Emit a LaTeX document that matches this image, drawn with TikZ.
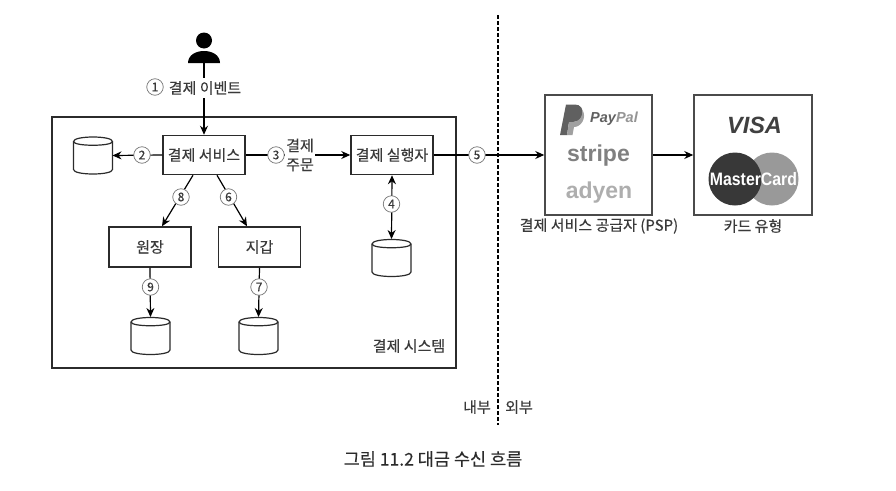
\documentclass[tikz,border=0pt]{standalone}
\usepackage{fontspec}
\setmainfont[FakeBold=0.25]{Noto Sans CJK KR}
\newfontfamily\logofont{Liberation Sans}
\usetikzlibrary{arrows.meta}
\definecolor{ink}{HTML}{2B2B2B}
\definecolor{txt}{HTML}{3A3A3A}
\tikzset{
  x=1pt,y=-1pt,
  boxn/.style={draw=ink,line width=1.5pt,fill=white,minimum width=82pt,minimum height=39pt,inner sep=0pt,text=txt,font=\fontsize{15}{17}\selectfont},
  outerbox/.style={draw=ink,line width=1.5pt,fill=white,minimum width=404pt,minimum height=251pt,inner sep=0pt},
  logobox/.style={draw=ink!85,line width=1.5pt,fill=white,minimum height=120pt,inner sep=0pt},
  dbn/.style={minimum width=39pt,minimum height=38pt,inner sep=0pt,outer sep=0pt},
  dbline/.style={draw=ink,line width=1.2pt,fill=white},
  conn/.style={draw=black,line width=1.2pt,-{Stealth[length=9pt,width=8pt]}},
  conn2/.style={draw=black,line width=1.2pt,{Stealth[length=9pt,width=8pt]}-{Stealth[length=9pt,width=8pt]}},
  numc/.style={circle,draw=ink!65,line width=0.7pt,fill=white,minimum size=16.5pt,inner sep=0pt,text=txt,font=\fontsize{12}{12}\selectfont},
  lbl/.style={text=txt,inner sep=0pt,font=\fontsize{15}{17}\selectfont},
  lblw/.style={lbl,fill=white,inner sep=1pt},
}
\newcommand{\dbdraw}[3]{%
  \node[dbn] (#1) at (#2,#3) {};
  \draw[dbline,shift={(#1.center)}] (-19.5,-14) .. controls (-19.5,-20) and (19.5,-20) .. (19.5,-14) -- (19.5,14) .. controls (19.5,20) and (-19.5,20) .. (-19.5,14) -- cycle;
  \draw[dbline,fill=none,shift={(#1.center)}] (-19.5,-14) .. controls (-19.5,-9) and (19.5,-9) .. (19.5,-14);
}
\begin{document}
\begin{tikzpicture}
\useasboundingbox (0,0) rectangle (896,490);
\fill[white] (0,0) rectangle (896,490);
% boundary
\coordinate (dtop) at (498,15);
\coordinate (dbot) at (498,425);
\draw[black,line width=1.2pt,dash pattern=on 3.5pt off 2.5pt] (dtop) -- (dbot);
% system
\node[outerbox] (sys) at (254,242.5) {};
\node[lbl] (syslbl) at (409,346) {결제 시스템};
% nodes
\node[boxn] (svc) at (204,155) {결제 서비스};
\node[boxn] (exec) at (392,155) {결제 실행자};
\node[boxn,minimum height=40pt] (ledger) at (150,247) {원장};
\node[boxn,minimum height=40pt] (wallet) at (259.5,247) {지갑};
\dbdraw{db2}{93}{155.5}
\dbdraw{db4}{391.5}{258}
\dbdraw{db9}{150.5}{336}
\dbdraw{db7}{258.5}{336}
\node[logobox,minimum width=107pt] (psp) at (598.5,155) {};
\node[logobox,minimum width=118pt] (card) at (753,155) {};
% person
\fill[black] (204,40.5) circle (8);
\fill[black] (188,63) .. controls (188,55) and (196,51) .. (204,51) .. controls (212,51) and (220,55) .. (220,63) -- cycle;
\coordinate (person) at (204,62);
% connectors
\draw[conn] (person) -- (svc.north);
\draw[conn] (svc.west) -- (db2.east);
\draw[conn] (svc.east) -- (exec.west);
\draw[conn2] (exec.south) -- (db4.north);
\draw[conn] (exec.east) -- (psp.west);
\draw[conn] (psp.east) -- (card.west);
\draw[conn] ([xshift=-11pt]svc.south) -- ([xshift=12pt]ledger.north);
\draw[conn] ([xshift=13pt]svc.south) -- ([xshift=-12.5pt]wallet.north);
\draw[conn] (ledger.south) -- (db9.north);
\draw[conn] (wallet.south) -- (db7.north);
% labels on connectors
\node[lblw,minimum height=20pt] (l1) at (205,88) {결제 이벤트};
\node[numc] (n1) at (155,87) {1};
\node[numc] (n2) at (142,155) {2};
\node[lblw,align=center,font=\fontsize{15}{19}\selectfont] (l3) at (300,155) {결제\\주문};
\node[numc] (n3) at (276,155) {3};
\node[numc] (n4) at (391.5,204) {4};
\node[numc] (n5) at (477,155) {5};
\node[numc] (n6) at (228.5,197) {6};
\node[numc] (n7) at (259,287) {7};
\node[numc] (n8) at (181,197) {8};
\node[numc] (n9) at (150.5,287) {9};
% PSP logos
\fill[ink!75] (560,135) -- (566,104.5) -- (575,104.5) .. controls (586,104.5) and (585,122) .. (573,122) -- (569,122) -- (567,135) -- cycle;
\fill[ink!45] (567,135) -- (569,122) -- (573,122) .. controls (579,122) and (583,117) .. (582.5,110) .. controls (587,118) and (581,127) .. (574,127) -- (572.5,135) -- cycle;
\node[inner sep=0pt,font=\logofont\bfseries\itshape\fontsize{14.5}{14.5}\selectfont] (ppl) at (614,119) {\textcolor{ink!75}{Pay}\textcolor{ink!50}{Pal}};
\node[inner sep=0pt,text=ink!60,font=\logofont\bfseries\fontsize{23}{23}\selectfont] (stp) at (598.5,156) {stripe};
\node[inner sep=0pt,text=ink!38,font=\logofont\bfseries\fontsize{23}{23}\selectfont] (ady) at (599,193) {adyen};
% card logos
\node[inner sep=0pt,text=ink!90,font=\logofont\bfseries\itshape\fontsize{23.5}{23.5}\selectfont] (visa) at (754.5,125) {VISA};
\fill[black!40] (772,179) circle (26.5);
\fill[black!78] (735,179) circle (26.5);
\node[inner sep=0pt,text=white,font=\logofont\bfseries\fontsize{18}{18}\selectfont,xscale=0.88] (mc) at (753.5,179) {MasterCard};
% outside labels
\node[lbl] (lpsp) at (599,226) {결제 서비스 공급자 (PSP)};
\node[lbl] (lcard) at (753,226) {카드 유형};
\node[lbl] (lin) at (477,407) {내부};
\node[lbl] (lout) at (519,407) {외부};
\node[lbl,font=\fontsize{17.5}{20}\selectfont,text=ink] (cap) at (433,459) {그림 11.2 대금 수신 흐름};
\end{tikzpicture}
\end{document}
